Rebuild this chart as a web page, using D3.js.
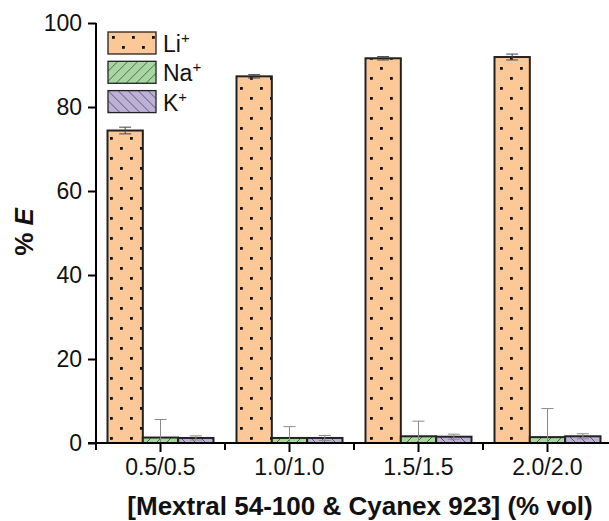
<!DOCTYPE html>
<html>
<head>
<meta charset="utf-8">
<script src="https://cdn.jsdelivr.net/npm/d3@7"></script>
<style>
  body { margin: 0; background: #fff; }
  text { font-family: "Liberation Sans", Arial, sans-serif; }
</style>
</head>
<body>
<div id="chart"></div>
<script>
var groups = ["0.5/0.5", "1.0/1.0", "1.5/1.5", "2.0/2.0"];
var ions = ["Li", "Na", "K"];
var liValues = [74.4, 87.3, 91.6, 91.9];
var liErrors = [0.8, 0.4, 0.4, 0.7];
var naValues = [1.3, 1.2, 1.6, 1.4];
var naErrors = [4.3, 2.7, 3.6, 6.8];
var kValues = [1.2, 1.2, 1.5, 1.6];
var kErrors = [0.5, 0.6, 0.6, 0.6];
var yTicks = [0, 20, 40, 60, 80, 100];

var svgWidth = 609;
var svgHeight = 521;
var margin = { top: 23, right: 0, bottom: 78, left: 96 };
var height = svgHeight - margin.top - margin.bottom;

var colors = { Li: "#fdc898", Na: "#a7d7a0", K: "#bdb1d8" };
var patterns = { Li: "pat-dots", Na: "pat-fwd", K: "pat-back" };

var series = ions.map(function(ion, i) {
  var vals = [liValues, naValues, kValues][i];
  var errs = [liErrors, naErrors, kErrors][i];
  return groups.map(function(g, j) {
    return { ion: ion, group: g, value: vals[j], err: errs[j] };
  });
});

var svg = d3.select("#chart")
  .append("svg")
  .attr("width", svgWidth)
  .attr("height", svgHeight);

var defs = svg.append("defs");

// dot pattern
var pd = defs.append("pattern").attr("id", "pat-dots")
  .attr("patternUnits", "userSpaceOnUse").attr("width", 20).attr("height", 20);
pd.append("rect").attr("width", 20).attr("height", 20).attr("fill", colors.Li);
pd.append("rect").attr("x", 4).attr("y", 4).attr("width", 2.8).attr("height", 2.8).attr("fill", "#111");
pd.append("rect").attr("x", 14).attr("y", 14).attr("width", 2.8).attr("height", 2.8).attr("fill", "#111");

// forward hatch
var pf = defs.append("pattern").attr("id", "pat-fwd")
  .attr("patternUnits", "userSpaceOnUse").attr("width", 10).attr("height", 10);
pf.append("rect").attr("width", 10).attr("height", 10).attr("fill", colors.Na);
pf.append("path").attr("d", "M-1,11 L11,-1 M-6,6 L6,-6 M4,16 L16,4")
  .attr("stroke", "#333").attr("stroke-width", 0.7);

// backward hatch
var pb = defs.append("pattern").attr("id", "pat-back")
  .attr("patternUnits", "userSpaceOnUse").attr("width", 10).attr("height", 10);
pb.append("rect").attr("width", 10).attr("height", 10).attr("fill", colors.K);
pb.append("path").attr("d", "M-1,-1 L11,11 M-6,4 L6,16 M4,-6 L16,6")
  .attr("stroke", "#333").attr("stroke-width", 0.7);

var chart = svg.append("g")
  .attr("transform", "translate(" + margin.left + "," + margin.top + ")");

var x0 = d3.scaleBand().domain(groups).range([0, 516]).padding(0);
var x1 = d3.scaleBand().domain(ions).range([11.5, 117.5]).padding(0);
var y = d3.scaleLinear().domain([0, 100]).range([height, 0]);

// bars
var ionGroups = chart.selectAll(".ion")
  .data(series)
  .enter()
  .append("g")
  .attr("class", "ion");

ionGroups.selectAll("rect")
  .data(function(d) { return d; })
  .enter()
  .append("rect")
  .attr("x", function(d) { return x0(d.group) + x1(d.ion); })
  .attr("y", function(d) { return y(d.value); })
  .attr("width", x1.bandwidth())
  .attr("height", function(d) { return y(0) - y(d.value); })
  .attr("fill", function(d) { return "url(#" + patterns[d.ion] + ")"; })
  .attr("stroke", "#222")
  .attr("stroke-width", 2);

// error bars
var errG = chart.append("g");
series.forEach(function(s) {
  s.forEach(function(d) {
    var cx = x0(d.group) + x1(d.ion) + x1.bandwidth() / 2;
    var col = d.ion === "Li" ? "#444" : "#8a8a8a";
    var top = y(d.value + d.err);
    var bot = Math.min(y(d.value - d.err), y(0));
    errG.append("line").attr("x1", cx).attr("x2", cx).attr("y1", top).attr("y2", bot)
      .attr("stroke", col).attr("stroke-width", 1);
    errG.append("line").attr("x1", cx - 6).attr("x2", cx + 6).attr("y1", top).attr("y2", top)
      .attr("stroke", col).attr("stroke-width", 1);
    if (d.value - d.err > 0) {
      errG.append("line").attr("x1", cx - 6).attr("x2", cx + 6).attr("y1", bot).attr("y2", bot)
        .attr("stroke", col).attr("stroke-width", 1);
    }
  });
});

// axes
var leftAxis = d3.axisLeft(y).tickValues(yTicks).tickSize(8).tickPadding(6);
var yAxisG = chart.append("g").call(leftAxis);
yAxisG.select(".domain").attr("stroke", "#000").attr("stroke-width", 2).attr("d", "M0," + (height + 1) + "V0");
yAxisG.selectAll(".tick line").attr("stroke", "#000").attr("stroke-width", 2);
yAxisG.selectAll(".tick text").style("font-size", "23px").attr("fill", "#111");

var bottomAxis = d3.axisBottom(x0).tickSize(9).tickPadding(7);
var xAxisG = chart.append("g").attr("transform", "translate(0," + height + ")").call(bottomAxis);
xAxisG.select(".domain").attr("stroke", "#000").attr("stroke-width", 2).attr("d", "M-8,0H516");
xAxisG.selectAll(".tick line").attr("stroke", "#000").attr("stroke-width", 2);
xAxisG.selectAll(".tick text").style("font-size", "23px").attr("fill", "#111");

// minor ticks at group boundaries
xAxisG.selectAll(".minor")
  .data(groups)
  .enter()
  .append("line")
  .attr("x1", function(d) { return x0(d); })
  .attr("x2", function(d) { return x0(d); })
  .attr("y1", 0).attr("y2", 7)
  .attr("stroke", "#000").attr("stroke-width", 2);

// axis titles
svg.append("text")
  .attr("x", 360).attr("y", 515)
  .attr("text-anchor", "middle")
  .style("font-size", "26px").style("font-weight", "bold")
  .attr("fill", "#111")
  .text("[Mextral 54-100 & Cyanex 923] (% vol)");

var yt = svg.append("text")
  .attr("transform", "translate(33,232) rotate(-90)")
  .attr("text-anchor", "middle")
  .style("font-size", "26px").style("font-weight", "bold")
  .attr("fill", "#111");
yt.append("tspan").text("% ");
yt.append("tspan").style("font-style", "italic").text("E");

// legend
var legend = svg.append("g").attr("transform", "translate(108,32)");
var lg = legend.selectAll("g")
  .data(ions)
  .enter()
  .append("g")
  .attr("transform", function(d, i) { return "translate(0," + i * 29.3 + ")"; });
lg.append("rect")
  .attr("width", 48).attr("height", 22)
  .attr("fill", function(d) { return "url(#" + patterns[d] + ")"; })
  .attr("stroke", "#222").attr("stroke-width", 1.3);
var lt = lg.append("text")
  .attr("x", 55).attr("y", 20)
  .style("font-size", "23px").attr("fill", "#111");
lt.append("tspan").text(function(d) { return d; });
lt.append("tspan").attr("dy", -9).style("font-size", "15px").text("+");
</script>
</body>
</html>
